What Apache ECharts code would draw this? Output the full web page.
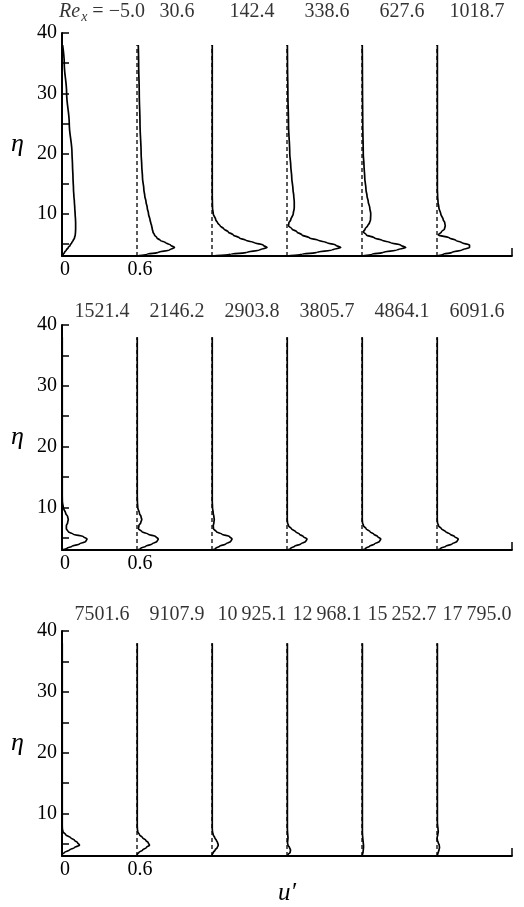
<!DOCTYPE html>
<html>
<head>
<meta charset="utf-8">
<script src="https://cdn.jsdelivr.net/npm/echarts@6/dist/echarts.min.js"></script>
<style>
  html, body { margin: 0; padding: 0; background: #fff; }
  #chart { width: 524px; height: 907px; }
</style>
</head>
<body>
<div id="chart"></div>
<script>
// Wall-normal stations (η) shared by every u' profile
const eta = [3, 3.3, 3.6, 4, 4.4, 4.8, 5.2, 5.6, 6, 6.5, 7, 7.5, 8, 8.5, 9, 10, 11, 12, 13, 14, 16, 18, 20, 25, 30, 35, 38];

// Each profile is drawn shifted along the u' axis by this amount
const offsets = [0, 0.6, 1.2, 1.8, 2.4, 3.0];

// Streamwise stations Re_x, one row per panel
const reRow1 = ['−5.0', '30.6', '142.4', '338.6', '627.6', '1018.7'];
const reRow2 = ['1521.4', '2146.2', '2903.8', '3805.7', '4864.1', '6091.6'];
const reRow3 = ['7501.6', '9107.9', '10\u2009925.1', '12\u2009968.1', '15\u2009252.7', '17\u2009795.0'];

// u' profiles, top panel (values at the eta stations)
const uRow1 = [
  [0, 0.01, 0.02, 0.035, 0.05, 0.065, 0.078, 0.09, 0.1, 0.106, 0.108, 0.109, 0.109, 0.109, 0.108, 0.105, 0.102, 0.099, 0.095, 0.092, 0.088, 0.084, 0.08, 0.058, 0.037, 0.018, 0.005],
  [0, 0.08, 0.17, 0.26, 0.30, 0.27, 0.23, 0.185, 0.16, 0.14, 0.128, 0.122, 0.117, 0.11, 0.104, 0.092, 0.082, 0.072, 0.062, 0.055, 0.044, 0.038, 0.033, 0.024, 0.018, 0.013, 0.01],
  [0, 0.15, 0.28, 0.38, 0.44, 0.41, 0.34, 0.27, 0.22, 0.17, 0.13, 0.095, 0.065, 0.045, 0.03, 0.01, 0.004, 0.003, 0.002, 0.002, 0.002, 0.002, 0.002, 0.002, 0.002, 0.002, 0.002],
  [0, 0.12, 0.24, 0.36, 0.43, 0.39, 0.32, 0.25, 0.18, 0.12, 0.08, 0.04, 0.012, 0.015, 0.03, 0.05, 0.058, 0.058, 0.054, 0.048, 0.038, 0.03, 0.022, 0.012, 0.007, 0.004, 0.003],
  [0, 0.08, 0.17, 0.28, 0.35, 0.31, 0.23, 0.16, 0.1, 0.035, 0.012, 0.025, 0.045, 0.06, 0.068, 0.07, 0.062, 0.05, 0.04, 0.032, 0.022, 0.016, 0.01, 0.006, 0.004, 0.003, 0.002],
  [0, 0.05, 0.12, 0.2, 0.26, 0.26, 0.2, 0.15, 0.1, 0.01, 0.035, 0.06, 0.066, 0.062, 0.05, 0.03, 0.015, 0.008, 0.005, 0.003, 0.003, 0.003, 0.003, 0.003, 0.003, 0.003, 0.003]
];

// u' profiles, middle panel
const uRow2 = [
  [0, 0.04, 0.08, 0.14, 0.19, 0.2, 0.17, 0.09, 0.05, 0.035, 0.035, 0.045, 0.05, 0.045, 0.03, 0.01, 0.003, 0.002, 0.002, 0.002, 0.002, 0.002, 0.002, 0.002, 0.002, 0.002, 0.002],
  [0, 0.03, 0.07, 0.12, 0.16, 0.17, 0.15, 0.09, 0.04, 0.012, 0.015, 0.03, 0.038, 0.032, 0.02, 0.006, 0.003, 0.002, 0.002, 0.002, 0.002, 0.002, 0.002, 0.002, 0.002, 0.002, 0.002],
  [0, 0.03, 0.06, 0.11, 0.15, 0.16, 0.14, 0.08, 0.035, 0.012, 0.01, 0.015, 0.018, 0.015, 0.01, 0.004, 0.002, 0.002, 0.002, 0.002, 0.002, 0.002, 0.002, 0.002, 0.002, 0.002, 0.002],
  [0, 0.03, 0.06, 0.11, 0.15, 0.16, 0.13, 0.1, 0.07, 0.035, 0.012, 0.004, 0.002, 0.002, 0.002, 0.002, 0.002, 0.002, 0.002, 0.002, 0.002, 0.002, 0.002, 0.002, 0.002, 0.002, 0.002],
  [0, 0.03, 0.06, 0.1, 0.14, 0.15, 0.125, 0.095, 0.065, 0.033, 0.012, 0.004, 0.002, 0.002, 0.002, 0.002, 0.002, 0.002, 0.002, 0.002, 0.002, 0.002, 0.002, 0.002, 0.002, 0.002, 0.002],
  [0, 0.03, 0.07, 0.12, 0.16, 0.17, 0.14, 0.105, 0.07, 0.035, 0.012, 0.004, 0.002, 0.002, 0.002, 0.002, 0.002, 0.002, 0.002, 0.002, 0.002, 0.002, 0.002, 0.002, 0.002, 0.002, 0.002]
];

// u' profiles, bottom panel
const uRow3 = [
  [0, 0.002, 0.02, 0.06, 0.1, 0.14, 0.125, 0.1, 0.07, 0.03, 0.008, 0.003, 0.002, 0.002, 0.002, 0.002, 0.002, 0.002, 0.002, 0.002, 0.002, 0.002, 0.002, 0.002, 0.002, 0.002, 0.002],
  [0, 0.002, 0.015, 0.045, 0.075, 0.1, 0.09, 0.07, 0.045, 0.02, 0.006, 0.003, 0.002, 0.002, 0.002, 0.002, 0.002, 0.002, 0.002, 0.002, 0.002, 0.002, 0.002, 0.002, 0.002, 0.002, 0.002],
  [0, 0.002, 0.01, 0.025, 0.042, 0.05, 0.045, 0.035, 0.022, 0.01, 0.004, 0.002, 0.002, 0.002, 0.002, 0.002, 0.002, 0.002, 0.002, 0.002, 0.002, 0.002, 0.002, 0.002, 0.002, 0.002, 0.002],
  [0, 0.01, 0.025, 0.028, 0.02, 0.008, 0.004, 0.006, 0.008, 0.006, 0.004, 0.003, 0.003, 0.003, 0.003, 0.003, 0.003, 0.003, 0.003, 0.003, 0.003, 0.003, 0.003, 0.003, 0.003, 0.003, 0.003],
  [0, 0.004, 0.008, 0.01, 0.012, 0.012, 0.01, 0.008, 0.006, 0.004, 0.003, 0.003, 0.003, 0.003, 0.003, 0.003, 0.003, 0.003, 0.003, 0.003, 0.003, 0.003, 0.003, 0.003, 0.003, 0.003, 0.003],
  [0, 0.005, 0.01, 0.016, 0.02, 0.018, 0.01, 0.003, 0.001, 0.006, 0.01, 0.008, 0.005, 0.003, 0.003, 0.003, 0.003, 0.003, 0.003, 0.003, 0.003, 0.003, 0.003, 0.003, 0.003, 0.003, 0.003]
];

// Axis ranges and tick marks
const etaRange = [3, 40];
const uRange = [0, 3.6];
const etaTicks = [5, 10, 15, 20, 25, 30, 35, 40];
const etaTickLabels = [10, 20, 30, 40];
const uTickLabels = [0, 0.6];

const SERIF = '"Liberation Serif", "DejaVu Serif", serif';
const INK = '#000';
const FS = 20;

const rows = [uRow1, uRow2, uRow3];
const labels = [reRow1, reRow2, reRow3];
const gridTops = [33, 325, 631];
const gridHeights = [223, 225, 226];
const labelLift = [-21, -13, -16];

const grid = [], xAxis = [], yAxis = [], series = [];

rows.forEach((profiles, p) => {
  grid.push({ left: 62, top: gridTops[p], width: 450, height: gridHeights[p] });

  xAxis.push({
    type: 'value', gridIndex: p, min: uRange[0], max: uRange[1],
    axisLine: { show: true, lineStyle: { color: INK, width: 1.8 } },
    axisTick: { show: true, inside: true, length: 8, customValues: [uRange[1]], lineStyle: { color: INK, width: 1.5 } },
    axisLabel: { customValues: uTickLabels, color: INK, fontFamily: SERIF, fontSize: FS, margin: 4, padding: [0, 0, 0, 6] },
    splitLine: { show: false },
    name: p === 2 ? 'u′' : '',
    nameLocation: 'middle', nameGap: 22,
    nameTextStyle: { color: INK, fontFamily: SERIF, fontStyle: 'italic', fontSize: 25 }
  });

  yAxis.push({
    type: 'value', gridIndex: p, min: etaRange[0], max: etaRange[1],
    axisLine: { show: true, lineStyle: { color: INK, width: 2 } },
    axisTick: { show: true, inside: true, length: 7, customValues: etaTicks, lineStyle: { color: INK, width: 1.5 } },
    axisLabel: { customValues: etaTickLabels, color: INK, fontFamily: SERIF, fontSize: FS, margin: 5 },
    splitLine: { show: false },
    name: 'η', nameLocation: 'middle', nameRotate: 0, nameGap: 38,
    nameTextStyle: { color: INK, fontFamily: SERIF, fontStyle: 'italic', fontSize: 26 }
  });

  // dashed zero line under each profile
  offsets.forEach((off) => {
    series.push({
      type: 'line', xAxisIndex: p, yAxisIndex: p, silent: true,
      showSymbol: false, symbol: 'none',
      lineStyle: { color: INK, width: 1.3, type: [4, 3] },
      data: [[off, eta[0]], [off, eta[eta.length - 1]]]
    });
  });

  // the u' profiles themselves
  profiles.forEach((u, k) => {
    series.push({
      type: 'line', xAxisIndex: p, yAxisIndex: p, silent: true,
      showSymbol: false, symbol: 'none',
      smooth: 0.35, smoothMonotone: 'y',
      lineStyle: { color: INK, width: 1.7 },
      data: eta.map((e, i) => [offsets[k] + u[i], e])
    });
  });

  // Re_x station labels above each profile
  series.push({
    type: 'scatter', xAxisIndex: p, yAxisIndex: p, silent: true,
    symbolSize: 0,
    label: {
      show: true, position: 'inside', offset: [40, labelLift[p]],
      color: INK, fontFamily: SERIF, fontSize: FS,
      formatter: (d) => d.name,
      rich: {
        it: { fontFamily: SERIF, fontStyle: 'italic', fontSize: FS, color: INK },
        sub: { fontFamily: SERIF, fontStyle: 'italic', fontSize: 14, color: INK, padding: [11, 0, 0, 1] },
        n: { fontFamily: SERIF, fontSize: FS, color: INK }
      }
    },
    data: labels[p].map((txt, k) => ({
      name: (p === 0 && k === 0) ? '{it|Re}{sub|x}{n| = ' + txt + '}' : txt,
      value: [offsets[k], etaRange[1]]
    }))
  });
});

const chart = echarts.init(document.getElementById('chart'), null, { renderer: 'canvas' });
chart.setOption({
  backgroundColor: '#fff',
  animation: false,
  grid, xAxis, yAxis, series
});
</script>
</body>
</html>
